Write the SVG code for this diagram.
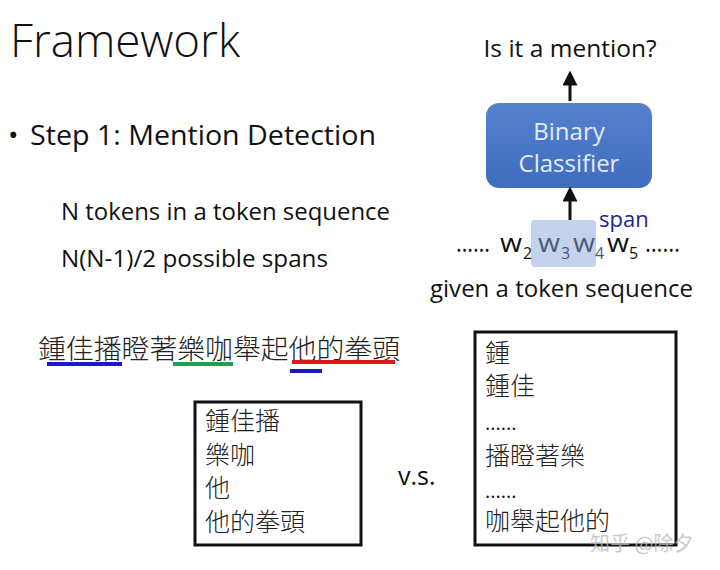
<svg xmlns="http://www.w3.org/2000/svg" width="720" height="570" viewBox="0 0 720 570">
<style>
.t{font-family:"Open Sans","Liberation Sans",sans-serif;fill:#111}
.c{font-family:"Noto Sans CJK TC","Noto Sans CJK SC",sans-serif;fill:#222;font-weight:300}
.w{font-family:"Open Sans","Liberation Sans",sans-serif;font-size:26px;fill:#111}
.s{font-family:"Open Sans","Liberation Sans",sans-serif;font-size:16px;fill:#111}
.g{fill:#4f5a72}
.ul{stroke-width:4;fill:none}
.box{fill:#fff;stroke:#111;stroke-width:3}
</style>
<defs>
<marker id="ah" viewBox="0 0 10 10" refX="5" refY="5" markerWidth="5" markerHeight="5" orient="auto">
<path d="M0,0 L10,5 L0,10 z" fill="#111"/>
</marker>
<linearGradient id="bg" x1="0" y1="0" x2="0" y2="1">
<stop offset="0" stop-color="#5581cf"/>
<stop offset="1" stop-color="#3f6cbd"/>
</linearGradient>
</defs>
<rect width="720" height="570" fill="#fff"/>
<g id="title">
<text class="t" x="10" y="57" font-size="46" font-weight="300" textLength="230" lengthAdjust="spacingAndGlyphs">Framework</text>
</g>
<g id="step1">
<text class="t" x="8" y="145" font-size="28">•</text>
<text class="t" x="30" y="145" font-size="28" textLength="346" lengthAdjust="spacingAndGlyphs">Step 1: Mention Detection</text>
<text class="t" x="61" y="220" font-size="23" textLength="329" lengthAdjust="spacingAndGlyphs">N tokens in a token sequence</text>
<text class="t" x="61" y="267" font-size="23" textLength="267" lengthAdjust="spacingAndGlyphs">N(N-1)/2 possible spans</text>
</g>
<g id="question">
<text class="t" x="570" y="57" font-size="23" text-anchor="middle" textLength="173" lengthAdjust="spacingAndGlyphs">Is it a mention?</text>
</g>
<g id="classifier">
<rect x="486" y="103" width="166" height="85" rx="13" fill="url(#bg)"/>
<text class="t" x="569" y="140" font-size="24" text-anchor="middle" style="fill:#e4ecf8">Binary</text>
<text class="t" x="569" y="172" font-size="24" text-anchor="middle" style="fill:#e4ecf8">Classifier</text>
</g>
<g id="tokens">
<rect x="531" y="220" width="65" height="47" rx="4" fill="#c3d3ee"/>
<text class="t" x="599" y="227" font-size="22" style="fill:#22229a">span</text>
<text class="w" x="456" y="252" textLength="34" lengthAdjust="spacingAndGlyphs">……</text>
<text class="w" x="500" y="252" textLength="22" lengthAdjust="spacingAndGlyphs">w</text><text class="s" x="523" y="259">2</text>
<text class="w g" x="538" y="252" textLength="22" lengthAdjust="spacingAndGlyphs">w</text><text class="s g" x="561" y="259">3</text>
<text class="w g" x="573" y="252" textLength="22" lengthAdjust="spacingAndGlyphs">w</text><text class="s g" x="595" y="259">4</text>
<text class="w" x="607" y="252" textLength="22" lengthAdjust="spacingAndGlyphs">w</text><text class="s" x="629" y="259">5</text>
<text class="w" x="645" y="252" textLength="35" lengthAdjust="spacingAndGlyphs">……</text>
<text class="t" x="430" y="297" font-size="23" textLength="263" lengthAdjust="spacingAndGlyphs">given a token sequence</text>
</g>
<g id="connectors">
<line x1="570" y1="101" x2="570" y2="78" stroke="#111" stroke-width="3" marker-end="url(#ah)"/>
<line x1="570" y1="220" x2="570" y2="194" stroke="#111" stroke-width="3" marker-end="url(#ah)"/>
</g>
<g id="sentence">
<text class="c" x="38" y="359" font-size="27.5" textLength="362" lengthAdjust="spacingAndGlyphs">鍾佳播瞪著樂咖舉起他的拳頭</text>
<line class="ul" x1="47" y1="364" x2="122" y2="364" stroke="#1a1ac8"/>
<line class="ul" x1="173" y1="364" x2="233" y2="364" stroke="#1fa050"/>
<line class="ul" x1="292" y1="362" x2="395" y2="362" stroke="#e01515"/>
<line class="ul" x1="290" y1="371" x2="322" y2="371" stroke="#1a1ac8"/>
</g>
<g id="mentions">
<rect class="box" x="195" y="402" width="166" height="143"/>
<text class="c" x="205" y="430" font-size="25">鍾佳播</text>
<text class="c" x="205" y="464" font-size="25">樂咖</text>
<text class="c" x="205" y="497" font-size="25">他</text>
<text class="c" x="205" y="531" font-size="25">他的拳頭</text>
</g>
<g id="vs">
<text class="t" x="398" y="485" font-size="25">v.s.</text>
</g>
<g id="allspans">
<rect class="box" x="475" y="332" width="201" height="213"/>
<text class="c" x="485" y="362" font-size="25">鍾</text>
<text class="c" x="485" y="395" font-size="25">鍾佳</text>
<text class="t" x="485" y="430" font-size="20">......</text>
<text class="c" x="485" y="465" font-size="25">播瞪著樂</text>
<text class="t" x="485" y="498" font-size="20">......</text>
<text class="c" x="485" y="530" font-size="25">咖舉起他的</text>
</g>
<g id="watermark">
<text x="590" y="551" font-size="20" font-family="Noto Sans CJK SC,sans-serif" fill="#bbb" fill-opacity="0.8">知乎 @除夕</text>
</g>
</svg>
